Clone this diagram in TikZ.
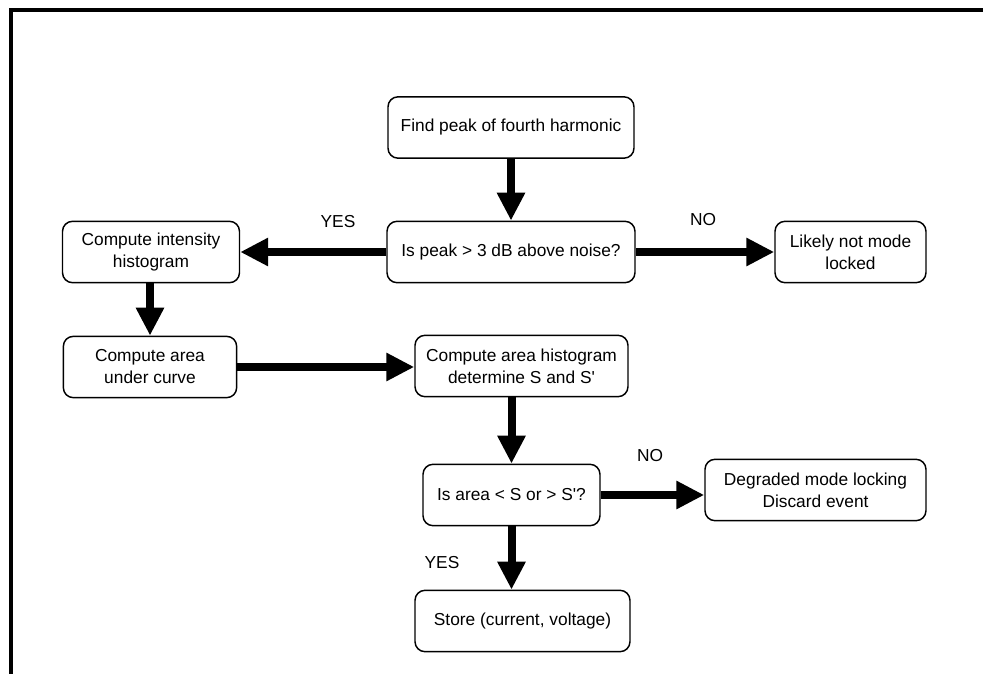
\documentclass[tikz,border=0pt]{standalone}
\usepackage{fontspec}
\setmainfont{Liberation Sans}
\newfontfamily\boxfont{Liberation Sans}
\usetikzlibrary{arrows.meta}
\begin{document}
\begin{tikzpicture}[x=0.75pt,y=-0.75pt,
	box/.style={draw,line width=1.1pt,rounded corners=7.5pt,align=center,inner sep=0pt,minimum height=46pt,font=\boxfont\fontsize{13}{16.5}\selectfont},
	flow/.style={line width=6pt,-{Triangle[width=20pt,length=21pt]}},
	lbl/.style={font=\boxfont\fontsize{13}{15}\selectfont}]
		\useasboundingbox (0,0) rectangle (983,674);
		\draw[line width=3pt] (983,10) -- (10.5,10) -- (10.5,674);

		\node[box,minimum width=184.5pt] (find) at (511,127.5) {Find peak of fourth harmonic};
		\node[box,minimum width=186pt] (peak) at (511,252) {Is peak > 3 dB above noise?};
		\node[box,minimum width=132.75pt] (inten) at (151,252) {Compute intensity\\histogram};
		\node[box,minimum width=113.25pt] (likely) at (850.5,252) {Likely not mode\\locked};
		\node[box,minimum width=130pt] (area) at (150,367) {Compute area\\under curve};
		\node[box,minimum width=159.75pt] (hist) at (521.5,366) {Compute area histogram\\determine S and S'};
		\node[box,minimum width=132.75pt] (isarea) at (511.5,495) {Is area < S or > S'?};
		\node[box,minimum width=165.75pt] (degr) at (815.5,490) {Degraded mode locking\\Discard event};
		\node[box,minimum width=161.25pt] (store) at (522.5,621) {\raisebox{-6pt}{Store (current, voltage)}};

		\draw[flow] (find) -- (peak);
		\draw[flow] (peak) -- (inten);
		\node[lbl] (yes1) at (338,222) {YES};
		\draw[flow] (peak) -- (likely);
		\node[lbl] (no1) at (703,220) {NO};
		\draw[flow] (inten.south -| area.north) -- (area.north);
		\draw[flow] (area.east) -- (hist.west |- area.east);
		\draw[flow] (hist.south -| isarea.north) -- (isarea.north);
		\draw[flow] (isarea.east) -- (degr.west |- isarea.east);
		\node[lbl] (no2) at (650,456) {NO};
		\draw[flow] (isarea.south) -- (isarea.south |- store.north);
		\node[lbl] (yes2) at (442,563) {YES};
	\end{tikzpicture}
\end{document}
